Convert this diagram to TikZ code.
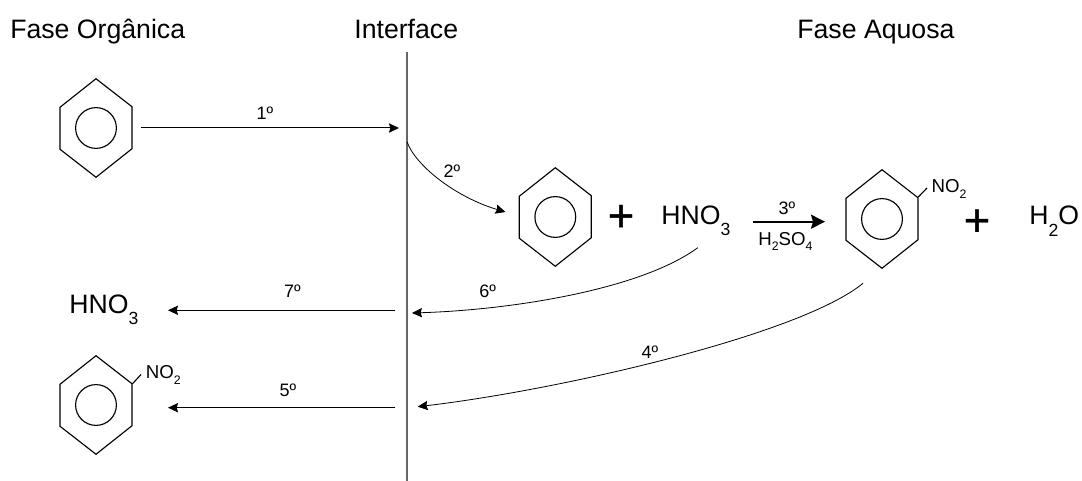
\documentclass[tikz,border=0pt]{standalone}
\usepackage{fontspec}
\usepackage{graphicx}
\setmainfont{Liberation Sans}
\newfontfamily\plusfont[FakeBold=0.7]{Liberation Sans}
\usetikzlibrary{arrows.meta, positioning, calc}
\newcommand{\sbs}[2][.44em]{\raisebox{-#1}{\scalebox{.66}{#2}}}
\newcommand{\nitro}{NO\sbs[.32em]{2}}
\newcommand{\benzene}[2]{%
	\node[hexbox] (#1) at (#2) {};
	\draw[bond] (#1.north) -- ++(36,28) -- ++(0,42) -- (#1.south) -- ++(-36,-28) -- ++(0,-42) -- cycle;
	\draw[bond] (#1.center) circle (20.4);
}
\tikzset{
	hexbox/.style ={rectangle, inner sep=0pt, minimum width=54pt, minimum height=73.5pt},
	bond/.style   ={line width=0.85pt},
	hdr/.style    ={inner sep=0pt, anchor=base west, font=\fontsize{20}{24}\selectfont},
	sym/.style    ={inner sep=0pt, anchor=base west, font=\fontsize{14}{17}\selectfont},
	lbl/.style    ={inner sep=0pt, font=\fontsize{13.5}{16}\selectfont},
	plussign/.style={inner sep=0pt, font=\plusfont\fontsize{34}{40}\selectfont},
	flow/.style   ={-{Stealth[length=7.5pt, width=7pt, inset=1pt]}, line width=0.75pt},
	flowc/.style  ={-{Stealth[length=7.5pt, width=7pt, inset=1pt]}, line width=0.6pt},
}
\begin{document}
\begin{tikzpicture}[x=0.75pt, y=-0.75pt]
	\useasboundingbox (0,0) rectangle (1082,481);
	% headers
	\node[hdr] (hOrg) at (10,38.5) {Fase Orgânica};
	\node[hdr, base right=126.5pt of hOrg] (hIfc) {Interface};
	\node[hdr, base right=254pt of hIfc] (hAq) {Fase Aquosa};
	\coordinate (ifTop) at (407,52);
	\coordinate (ifBot) at (407,481);
	\draw[line width=0.8pt, black!60] (ifTop) -- (ifBot);
	% molecules
	\benzene{bzA}{96,128}
	\benzene{bzB}{555.3,217}
	\benzene{bzC}{882,219}
	\benzene{bzD}{96,405}
	\node[plussign] (plA) at (621,218) {+};
	\node[plussign] (plB) at (977,222.7) {+};
	\node[hdr] (acA) at (661,224) {HNO\sbs{3}};
	\node[hdr] (wat) at (1029,224.3) {H\sbs{2}O};
	\node[hdr] (acB) at (69,313) {HNO\sbs{3}};
	\node[sym] (noC) at (931.3,192.3) {\nitro};
	\node[sym] (noD) at (145.7,378.3) {\nitro};
	\draw[bond] (bzC.east |- 0,197) -- (927,188);
	\draw[bond] (bzD.east |- 0,384) -- (141,374.5);
	% interface arrows
	\coordinate (aS) at (141,128);
	\coordinate (aE) at (399,128);
	\draw[flow] (aS) -- (aE);
	\node[lbl] (nA) at (265,113) {1º};
	\coordinate (bS) at (407,141.7);
	\coordinate (bE) at (505.5,212);
	\draw[flowc] (bS) .. controls (415,165) and (455,197) .. (bE);
	\node[lbl] (nB) at (452,171) {2º};
	\coordinate (cS) at (753,221.7);
	\coordinate (cE) at (825,221.7);
	\draw[-{Stealth[length=10.5pt, width=10.5pt, inset=1.5pt]}, line width=1.5pt] (cS) -- (cE);
	\node[lbl] (nC) at (787,208) {3º};
	\node[sym] (cat) at (758,245) {H\sbs[.32em]{2}SO\sbs[.32em]{4}};
	\coordinate (dS) at (863,283.3);
	\coordinate (dE) at (417.7,406.7);
	\draw[flowc] (dS) .. controls (800,335) and (560,390) .. (dE);
	\node[lbl] (nD) at (650,352) {4º};
	\coordinate (eS) at (395.3,407.7);
	\coordinate (eE) at (168,407.7);
	\draw[flow] (eS) -- (eE);
	\node[lbl] (nE) at (288,390) {5º};
	\coordinate (fS) at (697.8,247.7);
	\coordinate (fE) at (412,313);
	\draw[flowc] (fS) .. controls (640,290) and (510,310) .. (fE);
	\node[lbl] (nF) at (487.6,291) {6º};
	\coordinate (gS) at (395.3,310.3);
	\coordinate (gE) at (168,310.3);
	\draw[flow] (gS) -- (gE);
	\node[lbl] (nG) at (292.4,291) {7º};
\end{tikzpicture}
\end{document}
